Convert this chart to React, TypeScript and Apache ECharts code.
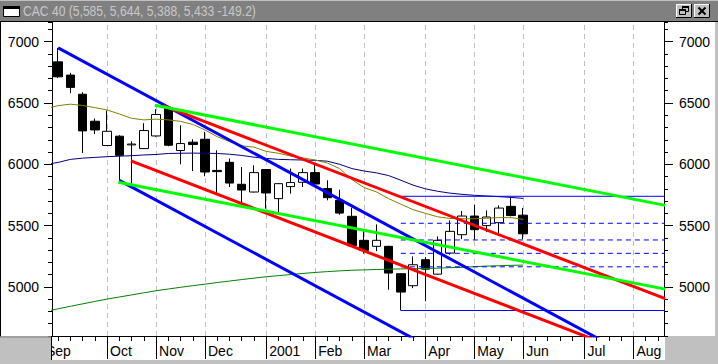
import React, { useEffect, useRef } from 'react';
import * as echarts from 'echarts';

// ---------- data ----------
const TITLE = 'CAC 40 (5,585, 5,644, 5,388, 5,433 -149.2)';
const WEEK_COUNT = 50; // weekly slots on the x axis (week 1 = week ending 2000-09-08)
const FIRST_WEEK = '2000-09-08';

const monthWeeks = [5, 9, 13, 18, 22, 26, 31, 35, 39, 44, 48];
const monthLabels = ['Oct', 'Nov', 'Dec', '2001', 'Feb', 'Mar', 'Apr', 'May', 'Jun', 'Jul', 'Aug'];
const firstMonthLabel = 'Sep';

const yMajorTicks = { min: 5000, max: 7000, step: 500 };

const opens = [6835, 6727, 6571, 6351, 6153, 6229, 6158, 6128, 6231, 6463, 6112, 6180, 6204, 5950, 6016, 5837, 5774, 5957, 5720, 5818, 5853, 5932, 5802, 5706, 5576, 5380, 5331, 5331, 5108, 5010, 5222, 5104, 5276, 5426, 5578, 5500, 5524, 5657, 5585];
const highs = [6949, 6745, 6588, 6373, 6438, 6237, 6188, 6335, 6449, 6475, 6318, 6204, 6264, 6114, 6047, 5978, 5992, 5960, 5845, 5965, 5965, 6006, 5869, 5793, 5647, 5455, 5510, 5335, 5110, 5249, 5243, 5412, 5543, 5619, 5671, 5624, 5665, 5728, 5644];
const lows = [6704, 6580, 6092, 6247, 6150, 5869, 5842, 6125, 6225, 6147, 6000, 5945, 5902, 5766, 5815, 5684, 5770, 5638, 5598, 5761, 5815, 5829, 5706, 5589, 5330, 5271, 5292, 4977, 4808, 4990, 4884, 5100, 5263, 5390, 5385, 5447, 5434, 5576, 5388];
const closes = [6713, 6627, 6272, 6280, 6269, 6073, 6165, 6275, 6406, 6155, 6169, 6161, 5937, 5940, 5847, 5790, 5932, 5766, 5842, 5851, 5932, 5839, 5728, 5602, 5336, 5298, 5380, 5113, 4958, 5181, 5145, 5380, 5453, 5578, 5467, 5570, 5643, 5582, 5433];

// moving averages, one value per week starting at week 0
const maShort = [6455, 6478, 6490, 6480, 6462, 6443, 6410, 6375, 6362, 6368, 6362, 6350, 6325, 6280, 6225, 6185, 6150, 6140, 6105, 6090, 6067, 6052, 6035, 6010, 5965, 5875, 5810, 5775, 5720, 5675, 5630, 5600, 5572, 5558, 5556, 5556, 5560, 5565, 5565, 5551];
const maMid = [6000, 6015, 6040, 6050, 6056, 6062, 6066, 6070, 6076, 6080, 6088, 6090, 6091, 6090, 6088, 6082, 6072, 6058, 6048, 6040, 6037, 6035, 6032, 6025, 6000, 5965, 5945, 5930, 5908, 5870, 5830, 5800, 5780, 5765, 5755, 5747, 5742, 5736, 5730, 5722];
const maLong = [4800, 4822, 4842, 4862, 4882, 4901, 4918, 4935, 4952, 4969, 4983, 4997, 5010, 5023, 5036, 5048, 5060, 5072, 5083, 5092, 5101, 5110, 5118, 5125, 5131, 5136, 5139, 5142, 5145, 5147, 5149, 5150, 5153, 5157, 5160, 5165, 5170, 5173, 5176, 5178];

// trend lines: [week, value] end points
const blueLines = [
  [[1, 6949], [46, 4532]],
  [[6, 5869], [31, 4527]],
];
const redLines = [
  [[9.6, 6478], [50.6, 4904]],
  [[6.95, 6027], [46, 4524]],
];
const greenLines = [
  [[8.9, 6481], [50.6, 5665]],
  [[5.92, 5853], [50.6, 4982]],
];

// Fibonacci retracement
const fibStartWeek = 29;
const fibEndWeek = 50.6;
const fibHigh = 5739;
const fibLow = 4808;
const fibDashed = [5519, 5383, 5274, 5164];

// ---------- helpers ----------
const categories = Array.from({ length: WEEK_COUNT }, (_, i) => {
  const d = new Date(FIRST_WEEK + 'T00:00:00Z');
  d.setUTCDate(d.getUTCDate() + i * 7);
  return d.toISOString().slice(0, 10);
});
const monthSet = new Set(monthWeeks.map((w) => w - 1));
const monthLabelAt: Record<number, string> = {};
monthWeeks.forEach((w, i) => (monthLabelAt[w - 1] = monthLabels[i]));

const FONT = '"Liberation Sans", Arial, sans-serif';

const candleData = opens.map((o, i) => [o, closes[i], lows[i], highs[i]]);
const maSeries = (vals: number[]) => vals.map((v, i) => [i, v]);

const lineSeries = (pts: number[][], color: string, width: number, type: any = 'solid', z = 5) => ({
  type: 'line',
  xAxisIndex: 1,
  yAxisIndex: 0,
  data: pts,
  showSymbol: false,
  symbol: 'none',
  silent: true,
  z,
  lineStyle: { color, width, type },
});

const ML_X = 8; // month label margin

function buildOption(): any {
  const series: any[] = [];
  // month grid lines
  series.push({
    type: 'line',
    xAxisIndex: 1,
    yAxisIndex: 0,
    data: [],
    z: 1,
    silent: true,
    markLine: {
      z: 1,
      silent: true,
      symbol: ['none', 'none'],
      label: { show: false },
      lineStyle: { color: '#c0c0c0', width: 1, type: [5, 4] },
      data: monthWeeks.map((w) => ({ xAxis: w })),
    },
  });
  series.push({
    type: 'candlestick',
    xAxisIndex: 0,
    yAxisIndex: 0,
    data: candleData,
    barWidth: 9,
    z: 3,
    silent: true,
    itemStyle: {
      color: '#ffffff',
      color0: '#000000',
      borderColor: '#000000',
      borderColor0: '#000000',
      borderWidth: 1,
    },
  });
  series.push(lineSeries(maSeries(maLong), '#008000', 1, 'solid', 4));
  series.push(lineSeries(maSeries(maMid), '#000080', 1, 'solid', 4));
  series.push(lineSeries(maSeries(maShort), '#808000', 1, 'solid', 4));
  // Fibonacci
  series.push(lineSeries([[fibStartWeek, fibHigh], [fibEndWeek, fibHigh]], '#0000ff', 1));
  series.push(lineSeries([[fibStartWeek, fibLow], [fibEndWeek, fibLow]], '#0000ff', 1));
  fibDashed.forEach((v) => series.push(lineSeries([[fibStartWeek, v], [fibEndWeek, v]], '#0000ff', 1, [5, 4])));
  // trend lines
  blueLines.forEach((p) => series.push(lineSeries(p, '#0000ff', 3, 'solid', 6)));
  redLines.forEach((p) => series.push(lineSeries(p, '#ff0000', 3, 'solid', 6)));
  greenLines.forEach((p) => series.push(lineSeries(p, '#00ff00', 3, 'solid', 6)));

  const labelStyle = { color: '#000', fontFamily: FONT, fontSize: 14 };
  const plain = (v: number) => String(v);

  return {
    animation: false,
    backgroundColor: '#c0c0c0',
    grid: [
      { left: 52, right: 54, top: 22, bottom: 28, show: false },
      { left: 52, right: 54, top: 41.63, bottom: 77.05, show: false },
    ],
    xAxis: [
      {
        type: 'category',
        gridIndex: 0,
        position: 'bottom',
        data: categories,
        boundaryGap: true,
        axisLine: { show: true, lineStyle: { color: '#000', width: 1 } },
        axisTick: { show: true, alignWithLabel: true, interval: 0, length: 5, lineStyle: { color: '#000' } },
        axisLabel: { show: false },
        splitLine: { show: false },
      },
      { type: 'value', gridIndex: 0, position: 'top', min: 0.5, max: 50.5, show: false },
      {
        type: 'category',
        gridIndex: 0,
        position: 'bottom',
        data: categories,
        boundaryGap: true,
        axisLine: { show: false },
        axisTick: {
          show: true,
          alignWithLabel: true,
          interval: (i: number) => monthSet.has(i),
          length: 23,
          lineStyle: { color: '#000' },
        },
        axisLabel: {
          ...labelStyle,
          interval: (i: number) => monthSet.has(i),
          formatter: (_v: string, i: number) => monthLabelAt[i] || '',
          align: 'left',
          verticalAlign: 'top',
          lineHeight: 14,
          padding: [0, 0, 0, 3],
          margin: ML_X,
        },
        splitLine: { show: false },
      },
      { type: 'value', gridIndex: 1, min: 0, max: 1, show: false },
    ],
    yAxis: [
      {
        type: 'value',
        gridIndex: 0,
        position: 'left',
        min: 4600,
        max: 7160,
        interval: 100,
        axisLine: { show: true, lineStyle: { color: '#000' } },
        axisTick: { show: true, length: 4, lineStyle: { color: '#000' } },
        axisLabel: { show: false },
        splitLine: { show: false },
      },
      {
        type: 'value',
        gridIndex: 0,
        position: 'right',
        min: 4600,
        max: 7160,
        interval: 100,
        axisLine: { show: true, lineStyle: { color: '#000' } },
        axisTick: { show: true, length: 4, lineStyle: { color: '#000' } },
        axisLabel: { show: false },
        splitLine: { show: false },
      },
      {
        type: 'value',
        gridIndex: 1,
        position: 'left',
        min: yMajorTicks.min,
        max: yMajorTicks.max,
        interval: yMajorTicks.step,
        axisLine: { show: false },
        axisTick: { show: true, length: 8, lineStyle: { color: '#000' } },
        axisLabel: { ...labelStyle, margin: 13, formatter: plain },
        splitLine: { show: false },
      },
      {
        type: 'value',
        gridIndex: 1,
        position: 'right',
        min: yMajorTicks.min,
        max: yMajorTicks.max,
        interval: yMajorTicks.step,
        axisLine: { show: false },
        axisTick: { show: true, length: 9, lineStyle: { color: '#000' } },
        axisLabel: { ...labelStyle, margin: 15, formatter: plain },
        splitLine: { show: false },
      },
    ],
    series,
    graphic: {
      elements: [
        // window interior
        { type: 'rect', z: -10, silent: true, shape: { x: 1, y: 22, width: 714, height: 314 }, style: { fill: '#ffffff' } },
        { type: 'rect', z: -10, silent: true, shape: { x: 51, y: 336, width: 614, height: 24 }, style: { fill: '#ffffff' } },
        // title bar
        { type: 'rect', z: -10, silent: true, shape: { x: 0, y: 1, width: 718, height: 20 }, style: { fill: '#808080' } },
        { type: 'line', z: -9, silent: true, shape: { x1: 0, y1: 21.5, x2: 718, y2: 21.5 }, style: { stroke: '#000', lineWidth: 1 } },
        { type: 'line', z: -9, silent: true, shape: { x1: 0.5, y1: 21, x2: 0.5, y2: 337 }, style: { stroke: '#000', lineWidth: 1 } },
        // icon
        { type: 'rect', z: 10, silent: true, shape: { x: 3.5, y: 6.5, width: 16, height: 10 }, style: { fill: '#ffffff', stroke: '#000', lineWidth: 1 } },
        { type: 'rect', z: 10, silent: true, shape: { x: 3, y: 6, width: 17, height: 3 }, style: { fill: '#000' } },
        // title text
        {
          type: 'text', z: 10, silent: true, x: 23, y: 11.5, scaleX: 0.866,
          style: { text: TITLE, x: 0, y: 0, font: '14px ' + FONT, fill: '#c8c8c8', verticalAlign: 'middle' },
        },
        // restore button
        { type: 'rect', z: 10, silent: true, shape: { x: 676, y: 4, width: 16, height: 14 }, style: { fill: '#c0c0c0' } },
        { type: 'polyline', z: 11, silent: true, shape: { points: [[676.5, 17.5], [676.5, 4.5], [691.5, 4.5]] }, style: { stroke: '#ffffff', lineWidth: 1, fill: 'none' } },
        { type: 'polyline', z: 11, silent: true, shape: { points: [[676, 17.5], [691.5, 17.5], [691.5, 4]] }, style: { stroke: '#000', lineWidth: 1, fill: 'none' } },
        { type: 'rect', z: 12, silent: true, shape: { x: 682.5, y: 6.5, width: 6, height: 5 }, style: { fill: 'none', stroke: '#000', lineWidth: 1 } },
        { type: 'rect', z: 12, silent: true, shape: { x: 682, y: 6, width: 7, height: 2 }, style: { fill: '#000' } },
        { type: 'rect', z: 13, silent: true, shape: { x: 679.5, y: 9.5, width: 6, height: 5 }, style: { fill: '#c0c0c0', stroke: '#000', lineWidth: 1 } },
        { type: 'rect', z: 13, silent: true, shape: { x: 679, y: 9, width: 7, height: 2 }, style: { fill: '#000' } },
        // close button
        { type: 'rect', z: 10, silent: true, shape: { x: 694, y: 4, width: 16, height: 14 }, style: { fill: '#c0c0c0' } },
        { type: 'polyline', z: 11, silent: true, shape: { points: [[694.5, 17.5], [694.5, 4.5], [709.5, 4.5]] }, style: { stroke: '#ffffff', lineWidth: 1, fill: 'none' } },
        { type: 'polyline', z: 11, silent: true, shape: { points: [[694, 17.5], [709.5, 17.5], [709.5, 4]] }, style: { stroke: '#000', lineWidth: 1, fill: 'none' } },
        { type: 'line', z: 12, silent: true, shape: { x1: 698.5, y1: 7.5, x2: 705.5, y2: 14.5 }, style: { stroke: '#000', lineWidth: 2 } },
        { type: 'line', z: 12, silent: true, shape: { x1: 705.5, y1: 7.5, x2: 698.5, y2: 14.5 }, style: { stroke: '#000', lineWidth: 2 } },
        // clipped first month label
        {
          type: 'text', z: 20, silent: true,
          style: { text: firstMonthLabel, x: 46, y: 336 + ML_X, font: '14px ' + FONT, fill: '#000', verticalAlign: 'top' },
        },
        { type: 'rect', z: 21, silent: true, shape: { x: 0, y: 336.5, width: 51, height: 27.5 }, style: { fill: '#c0c0c0' } },
        { type: 'line', z: 22, silent: true, shape: { x1: 51.5, y1: 336, x2: 51.5, y2: 360 }, style: { stroke: '#000', lineWidth: 1 } },
        { type: 'line', z: 22, silent: true, shape: { x1: 0, y1: 337, x2: 51, y2: 337 }, style: { stroke: '#808080', lineWidth: 1 } },
      ],
    },
  };
}

export default function App() {
  const ref = useRef<HTMLDivElement>(null);
  useEffect(() => {
    if (!ref.current) return;
    const chart = echarts.init(ref.current, null, { renderer: 'svg' });
    chart.setOption(buildOption());
    return () => chart.dispose();
  }, []);
  return <div ref={ref} style={{ position: 'absolute', left: 0, top: 0, width: 718, height: 364 }} />;
}
